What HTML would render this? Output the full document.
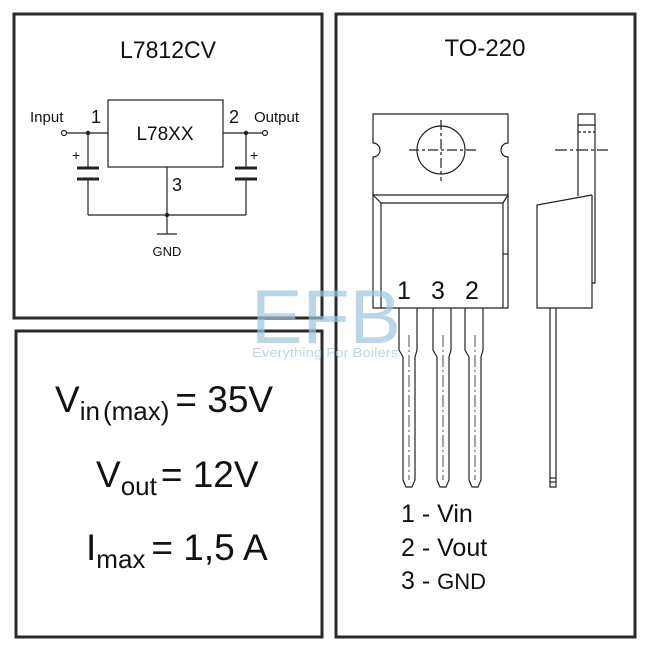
<!DOCTYPE html>
<html><head><meta charset="utf-8"><style>
html,body{margin:0;padding:0;background:#fff;width:650px;height:650px;overflow:hidden}
svg{display:block;font-family:"Liberation Sans",Arial,sans-serif}
</style></head><body>
<svg width="650" height="650" viewBox="0 0 650 650" xmlns="http://www.w3.org/2000/svg">
<rect width="650" height="650" fill="#fff"/>
<g fill="none" stroke="#2a2a2a" stroke-width="3">
<rect x="14" y="14" width="308" height="304"/>
<rect x="16" y="331" width="306" height="306"/>
<rect x="336" y="14" width="299" height="623"/>
</g>
<g fill="#111">
<text x="168" y="58" font-size="24" text-anchor="middle" textLength="96" lengthAdjust="spacingAndGlyphs">L7812CV</text>
<text x="485" y="56" font-size="24" text-anchor="middle">TO-220</text>
</g>
<!-- circuit -->
<g stroke="#222" stroke-width="1.2" fill="none">
<rect x="108" y="100" width="115" height="67"/>
<line x1="66" y1="133" x2="108" y2="133"/>
<line x1="223" y1="133" x2="262" y2="133"/>
<circle cx="64" cy="133" r="2.5" fill="#fff"/>
<circle cx="265" cy="133" r="2.5" fill="#fff"/>
<line x1="88" y1="133" x2="88" y2="168"/>
<line x1="88" y1="179" x2="88" y2="215"/>
<line x1="246" y1="133" x2="246" y2="168"/>
<line x1="246" y1="179" x2="246" y2="215"/>
<line x1="88" y1="215" x2="246" y2="215"/>
<line x1="167" y1="167" x2="167" y2="234"/>
<line x1="157" y1="234" x2="177" y2="234"/>
</g>
<g stroke="#222" stroke-width="3">
<line x1="77" y1="168" x2="99" y2="168"/><line x1="77" y1="179" x2="99" y2="179"/>
<line x1="235" y1="168" x2="257" y2="168"/><line x1="235" y1="179" x2="257" y2="179"/>
</g>
<g fill="#222"><circle cx="88" cy="133" r="2.2"/><circle cx="246" cy="133" r="2.2"/><circle cx="167" cy="215" r="2.2"/></g>
<g fill="#111">
<text x="165" y="140" font-size="19" text-anchor="middle">L78XX</text>
<text x="30" y="122" font-size="15">Input</text>
<text x="254" y="122" font-size="15">Output</text>
<text x="91" y="123" font-size="18">1</text>
<text x="229" y="123" font-size="18">2</text>
<text x="172" y="191" font-size="18">3</text>
<text x="72" y="160" font-size="14">+</text>
<text x="250" y="160" font-size="14">+</text>
<text x="167" y="256" font-size="13" text-anchor="middle">GND</text>
</g>
<!-- package front -->
<g stroke="#222" stroke-width="1.2" fill="none">
<path d="M373 114 H508 V143 A7 7 0 0 0 508 157 V308 H373 V157 A7 7 0 0 0 373 143 Z"/>
<line x1="373" y1="195" x2="508" y2="195"/>
<line x1="381" y1="203" x2="503" y2="203"/>
<line x1="373" y1="195" x2="381" y2="203"/><line x1="508" y1="195" x2="503" y2="203"/>
<line x1="381" y1="203" x2="381" y2="308"/><line x1="503" y1="203" x2="503" y2="308"/>
<line x1="503" y1="254" x2="508" y2="254"/>
<circle cx="441" cy="150" r="24"/>
<line x1="409" y1="150" x2="478" y2="150" stroke-dasharray="10 3 3 3"/>
<line x1="441" y1="120" x2="441" y2="181" stroke-dasharray="10 3 3 3"/>
<g id="lead">
<path d="M399 308 V350 L403 357 V480 L406 487 H412 L415 480 V357 L417 350 V308"/>
<line x1="409" y1="335" x2="409" y2="480" stroke-dasharray="12 3 2 3" stroke-width="0.8"/>
</g>
<use href="#lead" x="34"/>
<use href="#lead" x="66"/>
<path d="M578 114 H595 V283 H592 V308 H537 V205 L592 195"/>
<line x1="578" y1="114" x2="578" y2="196"/>
<line x1="578" y1="125" x2="595" y2="125"/>
<line x1="578" y1="132" x2="595" y2="132" stroke-dasharray="3 2"/>
<line x1="555" y1="150" x2="608" y2="150" stroke-dasharray="12 3 3 3"/>
<line x1="592" y1="195" x2="592" y2="283"/>
<path d="M550 308 V487 H556 V308"/>
<line x1="550" y1="478" x2="556" y2="478"/><line x1="550" y1="482" x2="556" y2="482"/>
</g>
<g fill="#111" font-size="25">
<text x="397" y="299">1</text><text x="431" y="299">3</text><text x="465" y="299">2</text>
<text x="401" y="522">1 - Vin</text>
<text x="401" y="556">2 - Vout</text>
<text x="401" y="589">3 - <tspan font-size="22">GND</tspan></text>
</g>
<g fill="#9cc6dd" fill-opacity="0.7">
<text x="251" y="343" font-size="76" textLength="150" lengthAdjust="spacingAndGlyphs">EFB</text>
<text x="252" y="357" font-size="13" textLength="146" lengthAdjust="spacingAndGlyphs">Everything For Boilers</text>
</g>
<g fill="#111">
<text x="55" y="412" font-size="37">V<tspan font-size="26" dy="8">in</tspan><tspan font-size="26" dx="3">(max)</tspan><tspan dy="-8" dx="6">= 35V</tspan></text>
<text x="96" y="487" font-size="37">V<tspan font-size="26" dy="8">out</tspan><tspan dy="-8" dx="4">= 12V</tspan></text>
<text x="86" y="560" font-size="37">I<tspan font-size="26" dy="8">max</tspan><tspan dy="-8" dx="6">= 1,5 A</tspan></text>
</g>
</svg>
</body></html>
